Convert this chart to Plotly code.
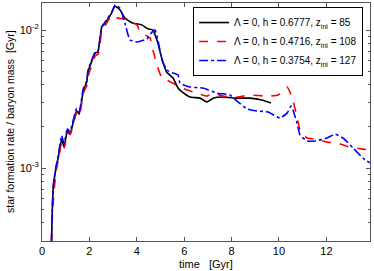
import plotly.graph_objects as go

# ---- data (time in Gyr, SFR / baryon mass in 1/Gyr) ----
t_black = [0.40, 0.435, 0.477, 0.59, 0.69, 0.83, 0.93, 1.07, 1.18, 1.46, 1.57, 1.74, 1.89, 1.94,
           2.24, 2.36, 2.52, 2.66, 2.94, 3.08, 3.29, 3.50, 3.84, 4.21, 4.47, 4.68, 4.89, 5.05,
           5.26, 5.53, 5.74, 5.91, 6.24, 6.67, 6.96, 7.22, 7.64, 8.23, 8.78, 9.28, 9.66]
s_black = [2.9e-4, 4.97e-4, 7.28e-4, 1.0e-3, 1.20e-3, 1.62e-3, 1.42e-3, 1.86e-3, 1.76e-3, 2.6e-3,
           2.45e-3, 3.6e-3, 4.2e-3, 4.96e-3, 6.81e-3, 6.93e-3, 1.05e-2, 1.12e-2, 1.33e-2, 1.49e-2,
           1.40e-2, 1.22e-2, 1.12e-2, 1.09e-2, 1.02e-2, 1.0e-2, 8.05e-3, 6.27e-3, 4.96e-3, 4.49e-3,
           3.80e-3, 3.56e-3, 3.27e-3, 3.21e-3, 3.01e-3, 3.21e-3, 3.27e-3, 3.21e-3, 3.21e-3,
           3.11e-3, 2.96e-3]

t_red = [0.40, 0.44, 0.50, 0.60, 0.70, 0.84, 0.94, 1.08, 1.19, 1.47, 1.58, 1.75, 1.90, 1.96,
         2.25, 2.37, 2.53, 2.67, 2.95, 3.21, 3.59, 3.80, 4.01, 4.14, 4.56, 4.68, 4.85, 5.06,
         5.27, 5.82, 6.12, 6.54, 6.96, 7.22, 7.64, 8.23, 8.78, 9.49, 9.96, 10.34, 10.55, 10.76,
         10.89, 11.18, 11.60, 12.03, 12.45, 12.87, 13.54, 13.84]
s_red = [2.9e-4, 4.6e-4, 6.6e-4, 9.6e-4, 1.17e-3, 1.58e-3, 1.40e-3, 1.80e-3, 1.74e-3, 2.55e-3,
         2.4e-3, 3.5e-3, 4.0e-3, 4.7e-3, 6.5e-3, 6.7e-3, 1.0e-2, 1.08e-2, 1.28e-2, 1.22e-2,
         1.20e-2, 1.14e-2, 1.09e-2, 9.67e-3, 8.75e-3, 7.16e-3, 5.57e-3, 4.49e-3, 4.34e-3,
         3.86e-3, 3.67e-3, 3.49e-3, 3.32e-3, 3.49e-3, 3.32e-3, 3.27e-3, 3.38e-3, 3.32e-3,
         3.38e-3, 3.86e-3, 3.27e-3, 2.34e-3, 1.88e-3, 1.65e-3, 1.62e-3, 1.54e-3, 1.52e-3,
         1.44e-3, 1.37e-3, 1.35e-3]

t_blue = [0.40, 0.435, 0.48, 0.59, 0.69, 0.83, 0.93, 1.07, 1.18, 1.46, 1.57, 1.74, 1.89, 1.94,
          2.24, 2.36, 2.52, 2.66, 2.94, 3.08, 3.29, 3.50, 3.71, 4.01, 4.43, 4.64, 4.77, 4.89,
          5.06, 5.27, 5.49, 5.74, 5.82, 6.24, 6.79, 7.38, 7.93, 8.27, 8.65, 9.07, 9.54, 10.04,
          10.34, 10.51, 10.59, 10.76, 10.89, 11.18, 11.52, 12.03, 12.36, 12.70, 13.12, 13.54,
          13.84]
s_blue = [2.9e-4, 5.1e-4, 7.6e-4, 1.02e-3, 1.25e-3, 1.72e-3, 1.50e-3, 1.92e-3, 1.84e-3, 2.7e-3,
          2.55e-3, 3.75e-3, 4.3e-3, 5.1e-3, 6.9e-3, 7.0e-3, 1.06e-2, 1.14e-2, 1.35e-2, 1.52e-2,
          1.44e-2, 1.12e-2, 8.47e-3, 8.19e-3, 8.61e-3, 9.67e-3, 1.0e-2, 8.47e-3, 6.07e-3,
          5.13e-3, 4.9e-3, 4.72e-3, 4.13e-3, 3.86e-3, 3.80e-3, 3.49e-3, 3.38e-3, 3.01e-3,
          2.68e-3, 2.59e-3, 2.55e-3, 2.30e-3, 2.50e-3, 2.81e-3, 2.63e-3, 2.12e-3, 1.73e-3,
          1.57e-3, 1.57e-3, 1.65e-3, 1.76e-3, 1.65e-3, 1.40e-3, 1.18e-3, 1.09e-3]

names = ["Λ = 0, h = 0.6777, z<sub>ini</sub> = 85",
         "Λ = 0, h = 0.4716, z<sub>ini</sub> = 108",
         "Λ = 0, h = 0.3754, z<sub>ini</sub> = 127"]

x_ticks = [0, 2, 4, 6, 8, 10, 12]
y_ticks = [1e-3, 1e-2]
y_tick_text = ["10<sup>-3</sup>", "10<sup>-2</sup>"]
y_minor = [k * 1e-4 for k in range(2, 10)] + [k * 1e-3 for k in range(2, 10)]

x_title = "time\u00a0\u00a0\u00a0[Gyr]"
y_title = "star formation rate / baryon mass\u00a0\u00a0[Gyr]"

fig = go.Figure()
fig.add_trace(go.Scatter(x=t_black, y=s_black, mode="lines", name=names[0],
                         line=dict(color="black", width=1.6, shape="spline", smoothing=0.4)))
fig.add_trace(go.Scatter(x=t_red, y=s_red, mode="lines", name=names[1],
                         line=dict(color="#ff0000", width=1.6, dash="dash", shape="spline", smoothing=0.4)))
fig.add_trace(go.Scatter(x=t_blue, y=s_blue, mode="lines", name=names[2],
                         line=dict(color="#0000ff", width=1.6, dash="dashdot", shape="spline", smoothing=0.4)))

axis_common = dict(showgrid=False, zeroline=False, showline=True, linecolor="#555555",
                   linewidth=1, mirror="ticks", ticks="inside", ticklen=4, automargin=False,
                   tickcolor="#555555", tickfont=dict(size=11, color="black"))

fig.update_xaxes(range=[0, 13.84], tickvals=x_ticks, **axis_common)
fig.update_yaxes(type="log", range=[-3.529, -1.804], tickvals=y_ticks, ticktext=y_tick_text,
                 minor=dict(tickmode="array", tickvals=y_minor, ticks="inside", ticklen=2,
                            tickcolor="#555555"),
                 **axis_common)

fig.add_annotation(text=x_title, xref="paper", yref="paper", x=0.5, y=0, yshift=-15,
                   xanchor="center", yanchor="top", showarrow=False, font=dict(size=11))
fig.add_annotation(text=y_title, xref="paper", yref="paper", x=0, xshift=-32, y=0.5,
                   xanchor="center", yanchor="middle", textangle=-90, showarrow=False,
                   font=dict(size=10.5))

fig.update_layout(
    width=374, height=271,
    margin=dict(l=42, r=4, t=3, b=30),
    paper_bgcolor="white", plot_bgcolor="white",
    font=dict(family="Liberation Sans, Arial, sans-serif", color="black", size=11),
    showlegend=True,
    legend=dict(x=0.979, xanchor="right", y=0.983, yanchor="top",
                bgcolor="white", bordercolor="black", borderwidth=1,
                font=dict(size=10), tracegroupgap=0, itemwidth=30),
)

fig.write_html("out.html", config={"displayModeBar": False},
               post_script="document.body.style.margin='0';")
